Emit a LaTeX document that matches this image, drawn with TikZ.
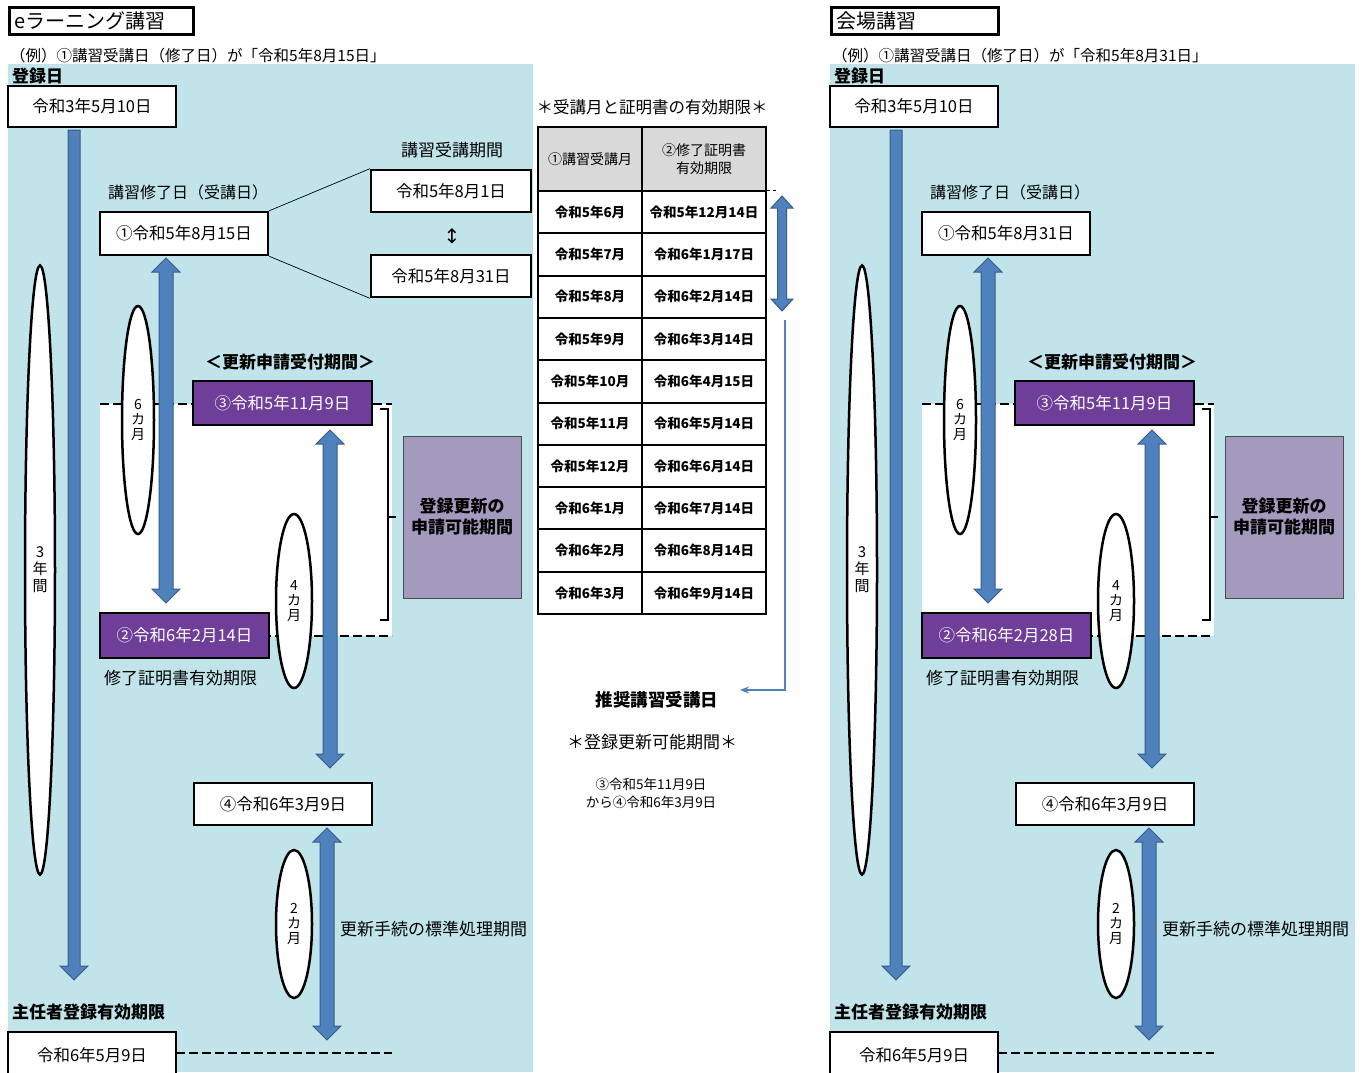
\documentclass[tikz,border=0pt]{standalone}
\usepackage{fontspec}
\setmainfont{Noto Sans CJK JP}
\newfontfamily\symf{DejaVu Sans}
\usetikzlibrary{arrows.meta,shapes.geometric}
\definecolor{bgblue}{RGB}{192,228,234}
\definecolor{arrblue}{RGB}{79,129,189}
\definecolor{arredge}{RGB}{56,93,138}
\definecolor{purp}{RGB}{110,62,152}
\definecolor{lilac}{RGB}{164,154,190}
\definecolor{hdrgray}{RGB}{217,217,217}
\newcommand\fsz[2]{\fontsize{#1}{#2}\selectfont}
\tikzset{
  wbox/.style={draw=black, line width=2.5pt, fill=white, inner sep=0pt, font=\fsz{16.5}{19}},
  pbox/.style={wbox, fill=purp, text=white},
  lbl/.style={inner sep=0pt, font=\fsz{17}{19}},
  blbl/.style={inner sep=0pt, font=\bfseries\fsz{17}{20}},
  oval/.style={draw=black, line width=2.5pt, fill=white, ellipse, inner sep=0pt, align=center, font=\fsz{14}{15}},
  barrow/.style={fill=arrblue, draw=arredge, line width=1pt},
  dashline/.style={line width=2.5pt, dash pattern=on 9pt off 4pt},
  brk/.style={line width=2pt},
  cell/.style={draw=black, line width=2pt, fill=white, inner sep=0pt, font=\bfseries\fsz{13.5}{16}},
  hcell/.style={cell, fill=hdrgray, font=\fsz{14}{18}, align=center},
}
% down block arrow: x, ytop, ybot, shaft half width, head half width, head length
\newcommand\ArrDn[6]{%
  \filldraw[barrow] ({#1-#4},#2) -- ({#1+#4},#2) -- ({#1+#4},{#3-#6}) -- ({#1+#5},{#3-#6})
   -- (#1,#3) -- ({#1-#5},{#3-#6}) -- ({#1-#4},{#3-#6}) -- cycle;}
% double block arrow
\newcommand\ArrDbl[6]{%
  \filldraw[barrow] (#1,#2) -- ({#1+#5},{#2+#6}) -- ({#1+#4},{#2+#6}) -- ({#1+#4},{#3-#6})
   -- ({#1+#5},{#3-#6}) -- (#1,#3) -- ({#1-#5},{#3-#6}) -- ({#1-#4},{#3-#6})
   -- ({#1-#4},{#2+#6}) -- ({#1-#5},{#2+#6}) -- cycle;}
% panel: shift, prefix, title, title text width, subtitle date, one date, two date
\newcommand\Panel[7]{%
\begin{scope}[xshift=#1, name prefix=#2-]
  \fill[bgblue] (8,64) rectangle (533,1072);
  \fill[white] (100,404) rectangle (392,636);
  \draw[dashline] (100,404) -- (392,404);
  \draw[dashline] (262,636) -- (392,636);
  \draw[dashline] (176,1053) -- (392,1053);
  \draw[brk] (380,409) -- (388,409) -- (388,620) -- (380,620);
  \draw[brk] (388,517) -- (396,517);
  \node[draw, line width=2.5pt, fill=white, minimum height=27, text width=#4, inner xsep=5pt,
        inner ysep=0pt, anchor=north west, font=\fsz{20}{22}, align=left] (title) at (8,6) {#3};
  \node[lbl, anchor=west, font=\fsz{15.5}{18}] (sub) at (10,56) {（例）①講習受講日（修了日）が「#5」};
  \node[blbl, anchor=west] (regl) at (12,76) {登録日};
  % arrows
  \ArrDn{74}{130}{980}{6}{14}{14}
  \ArrDbl{166}{258}{603}{7}{14}{14}
  \ArrDbl{330}{430}{768}{7}{14}{14}
  \ArrDbl{327}{828}{1040}{7}{14}{14}
  % ellipses
  \node[oval, minimum width=30, minimum height=609, font=\fsz{15}{17}] (y3) at (40,570) {3\\年\\間};
  \node[oval, minimum width=32, minimum height=228] (m6) at (138,420) {6\\カ\\月};
  \node[oval, minimum width=36, minimum height=174] (m4) at (294,601) {4\\カ\\月};
  \node[oval, minimum width=36, minimum height=148] (m2) at (294,924) {2\\カ\\月};
  % boxes
  \node[wbox, minimum width=168, minimum height=41] (reg) at (92,106.5) {令和3年5月10日};
  \node[lbl, anchor=west, font=\fsz{16}{19}] (donel) at (108,192) {講習修了日（受講日）};
  \node[wbox, minimum width=168, minimum height=43] (one) at (184,233.5) {①#6};
  \node[blbl] (acc) at (290,362) {＜更新申請受付期間＞};
  \node[pbox, minimum width=179, minimum height=44] (three) at (282.5,403) {③令和5年11月9日};
  \node[pbox, minimum width=169, minimum height=45] (two) at (184.5,635.5) {②#7};
  \node[lbl, anchor=west] (twol) at (104,678) {修了証明書有効期限};
  \node[draw=black!70, line width=1pt, fill=lilac, minimum width=118, minimum height=162,
        inner sep=0pt, align=center, font=\bfseries\fsz{17}{21}] (poss) at (462,517) {登録更新の\\申請可能期間};
  \node[wbox, minimum width=178, minimum height=42] (four) at (283,804) {④令和6年3月9日};
  \node[lbl, anchor=west] (stdl) at (340,929) {更新手続の標準処理期間};
  \node[blbl, anchor=west] (expl) at (12,1012) {主任者登録有効期限};
  \node[wbox, minimum width=168, minimum height=46] (exp) at (92,1055) {令和6年5月9日};
\end{scope}}

\begin{document}
\begin{tikzpicture}[x=1pt, y=-1pt]
\useasboundingbox (0,0) rectangle (1364,1072);
\fill[white] (0,0) rectangle (1364,1072);

\Panel{0}{L}{eラーニング講習}{174}{令和5年8月15日}{令和5年8月15日}{令和6年2月14日}
\Panel{822}{R}{会場講習}{157}{令和5年8月31日}{令和5年8月31日}{令和6年2月28日}

% course period group (left)
\node[lbl] (perl) at (452,150) {講習受講期間};
\node[wbox, minimum width=160, minimum height=42] (p1) at (451,191) {令和5年8月1日};
\node[wbox, minimum width=160, minimum height=42] (p2) at (451,276) {令和5年8月31日};
\node[inner sep=0pt, font=\symf\fsz{20}{22}] (ud) at (452,236) {↕};
\draw[line width=0.7pt] (L-one.north east) -- (p1.north west);
\draw[line width=0.7pt] (L-one.south east) -- (p2.south west);

% centre table
\node[lbl, font=\fsz{16.5}{19}] (ttl) at (652,107) {＊受講月と証明書の有効期限＊};
\node[hcell, minimum width=104, minimum height=64] (h1) at (590,159) {①講習受講月};
\node[hcell, minimum width=124, minimum height=64] (h2) at (704,159) {②修了証明書\\有効期限};
\foreach \a/\b [count=\i] in {令和5年6月/令和5年12月14日, 令和5年7月/令和6年1月17日,
  令和5年8月/令和6年2月14日, 令和5年9月/令和6年3月14日, 令和5年10月/令和6年4月15日,
  令和5年11月/令和6年5月14日, 令和5年12月/令和6年6月14日, 令和6年1月/令和6年7月14日,
  令和6年2月/令和6年8月14日, 令和6年3月/令和6年9月14日} {
  \node[cell, minimum width=104, minimum height=42.3] (r\i-a) at (590,{191+42.3*(\i-0.5)}) {\a};
  \node[cell, minimum width=124, minimum height=42.3] (r\i-b) at (704,{191+42.3*(\i-0.5)}) {\b};
}
\draw[dashed, line width=0.8pt] (r1-b.north east) -- ++(12,0);
\ArrDbl{782}{196}{311}{4.5}{11}{12}
\coordinate (cs) at (785,320);
\coordinate (ce) at (740,690);
\draw[arrblue, line width=1.2pt, -{Stealth[length=9pt,width=7pt]}] (cs) |- (ce);
\node[blbl, font=\bfseries\fsz{17.5}{20}] (rec) at (657,700) {推奨講習受講日};
\node[lbl] (per) at (652,742) {＊登録更新可能期間＊};
\node[lbl, font=\fsz{13.5}{18}, align=center] (rng) at (651,793) {③令和5年11月9日\\から④令和6年3月9日};
\end{tikzpicture}
\end{document}
